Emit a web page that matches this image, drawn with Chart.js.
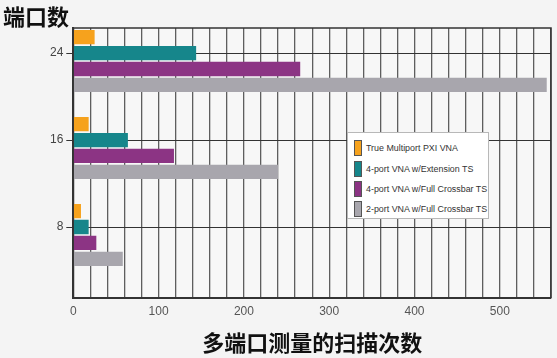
<!DOCTYPE html>
<html>
<head>
<meta charset="utf-8">
<script src="https://cdn.jsdelivr.net/npm/chart.js@4/dist/chart.umd.min.js"></script>
<style>
  html, body { margin: 0; padding: 0; background: #f4f4f4; }
  #wrap { position: relative; width: 557px; height: 358px; }
  canvas { display: block; }
  #legend {
    position: absolute; left: 347px; top: 132px; width: 140px; height: 85px;
    background: #ffffff; border: 1px solid #b8b8b8;
    font-family: "Liberation Sans", Arial, sans-serif; font-size: 8.9px; color: #333;
    box-sizing: content-box;
  }
  #legend .row { position: absolute; left: 6px; height: 16px; display: flex; align-items: center; white-space: nowrap; }
  #legend .sw { width: 6px; height: 14px; border: 1px solid #555; margin-right: 4px; }
</style>
</head>
<body>
<div id="wrap">
  <canvas id="c" width="557" height="358"></canvas>
  <div id="legend"></div>
</div>
<script>
// ---- data ----
const ports = [24, 16, 8];
const seriesNames = [
  "True Multiport PXI VNA",
  "4-port VNA w/Extension TS",
  "4-port VNA w/Full Crossbar TS",
  "2-port VNA w/Full Crossbar TS"
];
const trueMultiport = [25, 18, 9];
const extensionTS = [144, 64, 18];
const fullCrossbar4 = [266, 118, 27];
const fullCrossbar2 = [555, 240, 58];
const yTicks = [8, 16, 24];
const xTitle = "多端口测量的扫描次数";
const yTitle = "端口数";

const colors = ["#f6a21d", "#16868b", "#8c3484", "#a8a6ad"];
const seriesValues = [trueMultiport, extensionTS, fullCrossbar4, fullCrossbar2];

const toPoints = vals => vals.map((v, i) => ({ x: v, y: ports[i] }));

const datasets = [
  // spacer slot so the 2nd series sits on the tick
  { label: "", data: toPoints([0, 0, 0]), backgroundColor: "rgba(0,0,0,0)", borderWidth: 0 }
].concat(seriesValues.map((vals, i) => ({
  label: seriesNames[i],
  data: toPoints(vals),
  backgroundColor: colors[i],
  borderWidth: 0
})));

const framePlugin = {
  id: "frame",
  beforeDraw(chart) {
    const { ctx, chartArea: a } = chart;
    ctx.save();
    ctx.fillStyle = "#f7f7f7";
    ctx.fillRect(a.left, a.top, a.right - a.left, a.bottom - a.top);
    ctx.restore();
  },
  afterDraw(chart) {
    const { ctx, chartArea: a } = chart;
    ctx.save();
    ctx.strokeStyle = "#333";
    ctx.lineWidth = 1.5;
    ctx.beginPath();
    ctx.moveTo(a.left, a.top);
    ctx.lineTo(a.right, a.top);
    ctx.lineTo(a.right, a.bottom);
    ctx.stroke();
    ctx.restore();
  }
};

new Chart(document.getElementById("c"), {
  type: "bar",
  data: { datasets },
  options: {
    responsive: false,
    animation: false,
    indexAxis: "y",
    categoryPercentage: 0.914,
    barPercentage: 0.9,
    layout: { padding: { left: 3, right: 4.3, top: 0, bottom: 0 } },
    plugins: {
      legend: { display: false },
      tooltip: { enabled: false },
      title: {
        display: true,
        text: yTitle,
        align: "start",
        color: "#111",
        font: { family: "'Noto Sans CJK SC'", size: 22, weight: "bold", lineHeight: 1.05 },
        padding: { top: 5, bottom: 0 }
      }
    },
    scales: {
      x: {
        type: "linear",
        min: 0,
        max: 560,
        ticks: {
          stepSize: 20,
          autoSkip: false,
          maxRotation: 0,
          padding: 6,
          color: "#555",
          font: { family: "'Liberation Sans'", size: 12 },
          callback: v => (v % 100 === 0 ? String(v) : "")
        },
        grid: { color: "#5e5e5e", lineWidth: 1.3, drawTicks: false },
        border: { color: "#333", width: 2 },
        title: {
          display: true,
          text: xTitle,
          color: "#111",
          font: { family: "'Noto Sans CJK SC'", size: 22, weight: "bold", lineHeight: 1.2 },
          padding: { top: 4, bottom: 2 }
        },
        afterFit: s => { s.height = 60; }
      },
      y: {
        type: "linear",
        min: 1.47,
        max: 26.3,
        offset: false,
        bounds: "ticks",
        afterBuildTicks: s => { s.ticks = yTicks.map(v => ({ value: v })); },
        afterDataLimits: s => { s.min = 1.47; s.max = 26.3; },
        ticks: {
          padding: 3,
          color: "#444",
          font: { family: "'Liberation Sans'", size: 12 }
        },
        grid: { color: "#333", lineWidth: 1, tickLength: 7, offset: false },
        border: { color: "#333", width: 2 },
        afterFit: s => { s.width = 70.3; }
      }
    }
  },
  plugins: [framePlugin]
});

// HTML legend
const legend = document.getElementById("legend");
const rowTops = [7, 28, 48, 68];
seriesNames.forEach((name, i) => {
  const row = document.createElement("div");
  row.className = "row";
  row.style.top = rowTops[i] + "px";
  const sw = document.createElement("div");
  sw.className = "sw";
  sw.style.background = colors[i];
  const tx = document.createElement("span");
  tx.textContent = name;
  row.appendChild(sw);
  row.appendChild(tx);
  legend.appendChild(row);
});
</script>
</body>
</html>
